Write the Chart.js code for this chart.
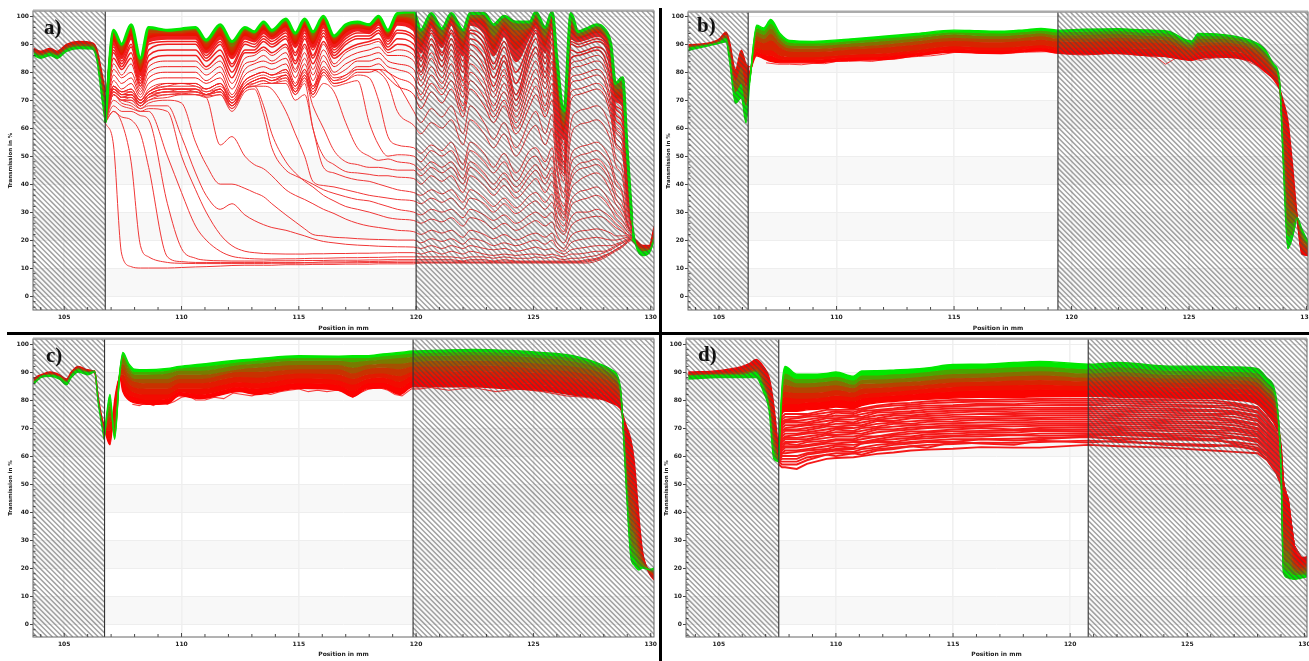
<!DOCTYPE html>
<html><head><meta charset="utf-8">
<style>
html,body{margin:0;padding:0;background:#fff;width:1309px;height:661px;overflow:hidden}
canvas{position:absolute;filter:blur(.45px)}
.tag{position:absolute;font:bold 21px "Liberation Serif",serif;color:#111;filter:blur(.4px)}
.bar{position:absolute;background:#000}
</style>
<script src="https://cdn.jsdelivr.net/npm/chart.js@4"></script>
</head><body>
<div class="bar" style="left:7px;top:332px;width:1302px;height:3px"></div>
<div class="bar" style="left:659px;top:8px;width:3px;height:653px"></div>
<canvas id="pa" style="left:0;top:0"></canvas>
<canvas id="pb" style="left:662px;top:0"></canvas>
<canvas id="pc" style="left:0;top:335px"></canvas>
<canvas id="pd" style="left:662px;top:335px"></canvas>
<div class="tag" style="left:44px;top:15px">a)</div>
<div class="tag" style="left:697px;top:13px">b)</div>
<div class="tag" style="left:46px;top:343px">c)</div>
<div class="tag" style="left:698px;top:342px">d)</div>
<script>
const xTicks=[105,110,115,120,125,130];
const yTicks=[0,10,20,30,40,50,60,70,80,90,100];
const shadedBands=[[0,10],[20,30],[40,50],[60,70],[80,90]];
const hatchA=[[103.67,106.75],[120,130.14]];
const hatchB=[[103.68,106.24],[119.42,130.06]];
const hatchC=[[103.67,106.72],[119.87,130.14]];
const hatchD=[[103.6,107.56],[120.77,130.11]];

/* ---------- panel a ---------- */
const leadXA=[103.7,104,104.4,104.7,105.1,105.6,106.2,106.4,106.6,106.75];
const leadA=[
[88.5,87.5,88.5,87.5,90,91,90.5,88,80,73],
[87.6,86.6,87.6,86.6,89,90,90,87,78,70],
[87,86,87,86,88.3,89.3,89.2,85.5,75,67],
[86,85,86,85,87.5,88.5,88.3,84,71,62]];
const tailXA=[129.2,129.37,129.66,129.94,130.15];
const tailA=[
[21,20,18,18,25],
[20.5,19,17,17,23],
[20,18.5,16,16.5,21],
[27,18,14.5,15.5,20]];
const posA=[106.75,107.1,107.45,107.85,108.25,108.6,109.4,110,110.6,111.05,111.65,112.15,112.7,113.1,113.5,113.85,114.45,114.85,115.25,115.6,116.05,116.5,117,117.5,118,118.4,118.8,119.2,119.9,120.2,120.65,121.1,121.5,122,122.3,122.9,123.3,123.75,124.25,124.85,125.1,125.5,125.8,126,126.3,126.6,126.9,127.3,127.7,128,128.3,128.5,128.8,129,129.2];
const fallingA=[
[62,54,15,10.5,10,10,10,10.2,10.4,10.5,10.7,10.9,11,11,11,11,11.2,11.2,11.2,11.3,11.3,11.3,11.4,11.4,11.4,11.5,11.5,11.5,11.5,
 11.8,11.8,11.8,11.8,11.8,11.8,11.8,11.8,11.8,11.8,11.8,11.8,11.8,11.8,11.8,11.8,11.8,11.8,11.8,12.5,13.5,15,16,17.5,19,20],
[62,66,62,48,18,14,12,11.7,11.6,11.6,11.6,11.6,11.6,11.6,11.6,11.7,11.7,11.7,11.8,11.8,11.8,11.8,11.9,11.9,12,12,12,12,12,
 12,12,12,12,12,12,12,12,12,12,12,12,12,12,12,12,12,12,12.3,13,14,15.5,16.5,18,19.5,20.5],
[62,66,64,63,58,46,14,12.3,12,12,12,12,12,12,12,12,12,12,12,12,12.2,12.2,12.2,12.3,12.3,12.4,12.4,12.5,12.5,
 12.5,12.5,12.5,12.5,12.3,12.5,12.5,12.3,12.5,12.3,12.3,12.3,12.3,12.3,12.3,12.3,12.3,12.3,12.6,13.2,14.2,15.5,16.5,18,19.5,20.5],
[62,68,66,66,64.5,63,33,17,13.5,12.8,12.6,12.5,12.5,12.5,12.5,12.6,12.6,12.6,12.7,12.7,12.7,12.8,12.8,12.8,12.9,12.9,13,13,13,
 13,13,13,13,12.5,13,13,12.5,13,12.5,12.5,12.5,12.5,12.5,12.5,12.5,12.5,12.5,13,13.5,14.5,15.5,16.5,18,19.5,20.5],
[62,70,68,67,66,66,50,37,25,20,16,14.2,13.5,13.3,13.2,13.2,13.3,13.3,13.4,13.5,13.5,13.6,13.7,13.7,13.8,13.8,13.9,14,14,
 14,14,14,14,13.5,14,14,13.5,14,13.5,13.5,14,13.5,14,13.5,13,13.5,13.5,14,14.5,15.5,16.5,17.5,19,20,20.5],
[62,72,69,68,66,67,66,50,38,30,22,18,16,15.5,15.2,15.1,15,15,15,15.1,15.1,15.2,15.2,15.3,15.3,15.4,15.4,15.5,15.5,
 15,16,15,16,15,16,15,14.5,15,14.5,15,15,14.5,15,14.5,14,15,15,15.5,16,16,17,18,19,20,21],
[62,72,70,69,67,68,68,57,44,36,31,33,29,27,25.5,24.5,23.5,22.5,21.5,20.5,19.5,19,18.5,18.2,18,17.8,17.7,17.6,17.5,
 17,18,17,18,17,18,17,16.5,17,16,17,17.5,16.5,17,16,15,16.5,17,17.5,18,18,18,18.5,19.5,20.5,21],
[62,72,70,70,67,69,70,69,55,47,40,40,38.5,37,35.5,33,29,26.5,24,22,21.5,21,20.8,20.5,20.3,20.2,20.1,20,20,
 19,20.5,19.5,20.5,18.5,20.5,19.5,18,19,18,19.5,20,18.5,20,17.5,16,19,20,20.5,21,20.5,20,20,20.5,21,21],
[62,72,70,70,68,70,71,72,72,71,54,57,50,47,45.5,43,38,36,34.5,33,31,29.5,27.5,26,25,24.5,24,23.5,23,
 22,23.5,22.5,23.5,21,23.5,22,20.5,22,20,22,22.5,21,22.5,19,17,21.5,23,23.5,24,23.5,22.5,21.5,21.5,21.5,21],
[62,72,70,71,68,70,72,72,72,71,72,67,74,75,68,58,48,44,41,39,36,34,32,31,30,29,28,27.5,27,
 26,27.5,26.5,28,25,28,26.5,24,26,23.5,26,27,25,26.5,22,19,25,27,28,28.5,28,26,24.5,23,22,21.5],
[62,73,71,71,68,71,72,72.5,72,71.5,72,66,73,74,65,53,45,43,41.5,40,38,36.7,35.5,34.5,34,33,32,31,30,
 29,31,30,31,28,31,29,27,29,26,29,30,28,30,25,22,28,30,30,31,30,28,26,24,22,21],
[62,73,71,71,68,71,73,73,73,72,73,67,74,75,75,74,66,58,50,41,39.5,39,38,37,36,35.5,35,34.5,34,
 33,35,33.5,35,31,35,33,30,33,29.5,33,34,31,33.5,27,23,32,34,35,36,34.5,31,28,25.5,23,21.5],
[62,73,71,72,68,71,73,73,73,72,73,68,74,75,76,76,76,70,72,60,46,44,42.5,41.5,41,40,39,38,37,
 36,38,36.5,38,33.5,38,35,32,35,31.5,36,37,33.5,36.5,29,25,34,37,38,39,37,33,30,27,24,22],
[62,73,71,72,69,71,73,73,73,72,73,68,74,76,77,76,77,72,76,60,50,47,44.5,44,43.5,43,43,42.5,42,
 40,43,41,43,37,43,39.5,36,39.5,35,40,42,37,41,32,27,38,41,43,44,42,37,33,29,25,22],
[62,74,71,72,69,72,73,74,73,72,74,68,75,76,77,76,78,72,77,68,60,52,48,47,46,46,45.5,45,45,
 43,46,44,46,40,46,42,38,42,37,43,45,40,44,34,28,41,45,46,47,45,40,35,31,26,22],
[62,74,72,72,69,72,74,74,74,72,74,69,75,77,78,77,78,73,78,71,76,73,62,53,50,48.5,49,48,47,
 45,48,46,48,42,48,44,40,44,39,45,47,42,46,36,29,43,47,48,49,47,42,37,33,26,22],
[62,74,72,73,69,72,74,74,74,73,74,69,75,77,78,77,79,73,78,72,79,75,76,77,62,54,50,50.5,50,
 48,52,50,52,45,52,48,44,48,41,49,50,45,50,38,30,47,50,51,52,50,46,40,36,26,22],
[62,75,72,73,70,73,75,75,75,73,75,70,76,78,79,78,79,74,79,73,80,76,77,79,78,70,57,54,53,
 51,54,52,55,47,55,51,46,51,44,52,53,48,53,40,32,50,53,54,55,53,48,42,37,27,22],
[62,75,73,73,70,73,75,76,75,74,76,70,77,79,80,79,80,75,80,74,81,77,78,81,81,80,76,66,61,
 58,62,60,63,54,63,58,53,58,50,59,61,54,60,45,35,57,61,62,63,61,55,47,42,29,23],
[62,75,73,74,70,74,76,76,76,74,76,71,77,79,80,79,81,75,81,75,81,77,79,81,81,81,80,76,66,
 62,67,64,68,58,68,62,56,62,53,63,66,58,65,47,37,62,66,67,68,66,59,50,45,31,23]];
const massA=[
[62,74,72,72,69,72,74,74,74,72,74,68,75,77,78,77,79,73,79,72,80,76,77,80,80,81,78,75,72,
 67,73,69,74,64,74,68,62,68,58,68,72,64,70,51,41,70,72,73,74,72,64,54,50,33,23],
[62,75,73,74,70,73,76,76,76,74,76,69,77,79,80,79,81,75,81,74,82,78,79,82,82,83,80,78,75,
 70,76,72,77,66,77,71,64,70,60,71,75,66,73,53,43,73,74,75,76,74,66,55,51,34,24],
[62,77,74,76,71,76,78,78,78,76,78,71,79,81,82,81,83,76,83,75,84,79,81,84,84,85,82,81,78,
 72,79,74,80,68,80,74,66,73,62,74,78,68,76,55,44,76,77,78,79,77,68,57,53,35,24],
[63,79,76,78,72,78,80,80,80,77,80,72,81,83,84,83,85,78,85,77,86,80,83,85,86,87,84,83,81,
 75,82,76,83,71,83,77,68,76,64,77,81,71,79,57,45,78,79,80,81,79,70,59,55,36,24],
[63,81,78,80,73,80,82,82,82,79,82,74,83,84,86,84,87,80,87,79,88,82,85,87,88,89,86,86,84,
 77,85,78,86,73,86,80,71,79,66,80,84,74,82,60,46,81,82,83,84,82,73,60,56,37,24],
[63,83,79,83,74,82,84,84,84,81,84,76,85,86,88,86,89,81,89,81,90,83,87,89,90,91,87,88,86,
 79,87,80,88,75,88,82,73,81,68,83,87,76,84,61,47,83,84,85,86,84,75,61,58,38,25],
[64,85,81,85,75,84,86,86,86,82,86,78,87,87,89,87,90,83,90,83,91,85,88,90,91,92,88,90,88,
 80,90,82,90,77,90,85,75,84,70,85,89,78,87,63,48,85,86,87,88,86,77,63,60,39,25],
[64,87,82,87,76,86,88,88,88,84,88,80,88,88,91,89,92,84,92,85,93,86,90,92,92,94,89,92,90,
 82,92,84,92,80,92,88,78,86,72,88,92,80,90,65,50,88,87,88,89,88,80,65,62,40,25],
[64,88,83,89,77,88,90,90,90,85,90,82,90,89,92,90,93,86,93,86,94,87,91,93,93,95,90,94,92,
 84,94,86,94,82,94,90,81,89,76,90,94,83,92,68,52,90,89,90,91,90,82,67,64,42,25],
[65,89,84,90,78,90,91,91,91,86,91,83,91,90,93,91,94,87,94,88,95,88,92,94,94,96,91,95,93,
 85,95,87,95,84,95,92,83,91,80,91,95,85,94,70,54,91,90,91,92,91,83,68,66,43,26],
[65,90,85,92,79,91,92,92,92,87,92,85,92,91,94,92,95,89,95,89,96,89,93,95,94,97,92,97,95,
 87,96,89,97,86,97,94,86,93,84,93,96,87,96,72,56,92,91,92,93,92,85,70,68,45,26],
[65,91,86,93,80,92,93,93,93,88,93,86,93,92,95,93,96,90,96,90,97,90,94,96,95,98,93,98,96,
 89,97,90,98,88,98,96,88,95,88,94,97,89,98,74,58,94,92,93,94,93,86,71,70,46,26],
[65,92,87,94,81,93,94,94,94,89,94,87,94,92,96,93,97,91,97,91,98,91,95,96,96,98,93,99,97,
 90,98,91,99,90,99,98,90,96,91,95,98,91,99,76,60,95,93,94,95,94,87,72,72,47,26],
[65,93,88,95,82,94,94,94,95,90,95,88,95,93,97,94,98,92,98,92,99,92,96,97,96,99,94,100,98,
 91,99,92,99,91,99,99,92,97,93,96,99,92,100,78,61,97,93,94,95,94,88,73,73,48,26],
[64,94,89,96,83,95,95,95,95,90.5,96,89,95,94,97,94,98,93,98,93,99,92,96,97,97,99,94,100,99,
 92,99,93,100,92,100,99,93,98,95,96,100,93,100,80,62,98,93,94,96,94,88,74,74,49,27],
[63,94.5,89.5,96.5,84,95.5,95,95,95.5,91,96.5,90,95.5,94,97.5,94.5,98.5,93.5,98.5,94,99.5,92.5,96.5,97.5,97,99.5,94.5,100.5,100,
 93,100,94,100,93,100,100,95,99,96,97,100,94,101,82,64,100,94,95,96,95,89,75,76,50,27]];
const topA=[62,95,90,97,85,96,95,95.5,96,91.5,97,91,96,94.5,98,95,99,94,99,94.5,100,93,97,98,97,100,95,101,101.5,
 95,101,95.5,101,95,101,101,97,100,98,98,101.5,96,101.5,85,66,101,94.5,95.7,97,95.7,90,76,78,52,27];

/* ---------- panel b ---------- */
const leadXB=[103.7,104.5,105,105.3,105.45,105.7,105.95,106.15,106.3];
const leadB=[
[90,90.5,92,94.5,91,81,88,83,82],
[89.5,90.3,91.5,93.5,89,77,82,75,80],
[89,90,91,92.5,87,73,76,68,78],
[88,89.5,90.5,91,84,69,71,62,76]];
const posB=[106.3,106.6,106.9,107.2,107.6,108,109,110.5,112,113.4,115,116,117,118,118.7,119.4,120.5,122,123,124.1,125.1,125.4,126.2,127.6,128.2,128.6,128.85,129,129.2,129.4,129.6,129.8,130.15];
const fringeXB=[107,107.5,108,108.5,109,109.5,110,110.5,111,111.5,112,112.5,113,113.5,114,114.5,115,115.5,116,116.5,117,117.5,118,118.5,119,119.5,120,120.5,121,121.5,122,123,123.6,124,124.5,125,125.5,126,126.5,127,127.5,128];
const fringeB=[83.5,83,83,82.8,83.3,83.2,84,84,84.2,84,84.6,84.8,85.5,85.8,86,86.5,87.2,87.5,86.9,86.8,86.7,87,87.3,87.4,87.5,86.8,86.5,86.3,86.5,86.9,86.7,86.2,85.5,83,85.5,85,84.4,85.2,85.4,85.5,84,82];
const bandB=[
[80,86,85,84,83.5,83.5,83.5,84.4,84.7,86,87.4,87,86.9,87.5,87.8,87,86.6,86.9,86.2,85.6,84.4,85,85.6,84.2,80.5,77.5,74,70,63,47,28,15,14.5],
[79.5,87.5,86.5,86,84.7,84.5,84.5,85.3,85.7,87,88.3,88,87.8,88.4,88.8,88,87.7,88,87.3,86.7,85.2,86,86.6,85,81.5,78.2,74.4,67.4,57.5,44,28,16,15],
[79,89,88,88,86,85.5,85.5,86.3,86.8,88,89.4,89,88.9,89.4,89.8,89,88.9,89.1,88.5,87.9,86.1,87.3,87.7,86,82.5,78.9,74.8,64.7,52,40.5,28,17,15.4],
[78,91.5,90.5,91.5,89,87.5,87.4,88.2,88.9,90,91.3,91,90.9,91.4,91.8,91.1,91,91.3,90.8,90.2,87.9,89.5,89.7,87.9,84.5,80.3,75.5,59.4,40,34,28,19.5,16.3],
[77.4,93,92,93.8,90.3,88.6,88.5,89.2,90,91.2,92.5,92.1,92,92.5,93,92.2,92.2,92.5,92,91.5,88.9,90.8,90.9,89,85.8,81.1,76,56,33,30,28,21,16.7],
[77,94.5,93.5,95.7,91.7,89.6,89.5,90.3,91.2,92.2,93.6,93.1,93,93.6,94,93.3,93.5,93.7,93.2,92.8,89.8,92,92,90,86.8,81.8,76.3,53.4,27,26,28,22,17.2],
[76.5,96,95,97.5,93,90.7,90.4,91.2,92.2,93.2,94.4,94.2,94,94.5,95,94.4,94.6,94.8,94.3,93.9,90.6,93,93,90.9,87.8,82.5,76.7,50.8,21.5,22,28,23,17.6],
[76,97,96,99,94,91.5,91.2,92,93,94,95.2,95,94.8,95.3,95.8,95.2,95.5,95.7,95.3,94.8,91.3,94,93.8,91.6,88.6,83,77,48.7,17,21,28,24,18]];

/* ---------- panel c ---------- */
const leadXC=[103.7,103.85,104,104.4,104.8,105.1,105.3,105.6,106,106.3,106.45,106.6,106.7];
const leadC=[
[87.5,88.5,89,90,89,87.5,90,92,90.8,90,81,74,71],
[87,88,88.5,89.5,88.5,87,89.5,91.5,90.3,89.7,80.5,73,70],
[86.5,87.5,88.5,89,88.3,86.5,89,91,90,90.5,80,72,68],
[85.7,87,88,88.5,87.5,85.5,88,90,89,90,79,71,66]];
const posC=[106.7,106.95,107.15,107.37,107.5,107.75,108,108.5,109.4,109.9,110.8,112.47,113.2,115,116.7,117.3,117.9,118.6,119.3,119.85,121,122.4,124,125.3,126.7,127.8,128.3,128.7,128.8,128.95,129.15,129.3,129.5,129.65,129.95,130.15];
const fringeXC=[107.9,108.2,108.5,108.8,109.1,109.4,109.7,110,110.3,110.6,111,111.4,111.8,112.2,112.6,113,113.4,113.8,114.2,114.6,115,115.4,115.8,116.2,116.6,117,117.3,117.6,118,118.4,118.8,119.1,119.4,119.8,120.2,120.6,121,121.4,122.4,123.4,124.4,125.4,126.4,127.2,127.8];
const fringeC=[78.5,78,79,78,79.5,78.5,79.5,81,81.5,80,80,81,80.5,82.5,82,81.5,82.5,82,83,83.5,84,83,83.5,83,83.5,83,81,82.5,84,84.5,83.5,82,81.5,84,84,84.5,84,83.5,84.5,83,84,83,81.5,81,80.2];
const bandC=[
[70,64,80,88,83,80,79,78.5,78.7,81.5,80.5,83,82,84.2,83.5,81.2,84,84.3,82,84.7,84.7,84.7,84,83.5,81.8,80.5,79,77,75,71,66,58,38,26,18,15.7],
[70,66,78,88,85,82,81,80,80.5,83,82,84.7,84,85.9,85.3,83.3,85.8,86.1,84.3,86.6,86.6,86.7,86,85.5,83.9,82.4,80.8,78.2,75,68,60,52,35,25,18.2,16.3],
[69,69,76,88.5,87,84,82.5,82,82,84,84,86.4,86,87.7,87,85.5,87.4,88,86.5,88.5,88.5,88.7,88,87.5,86,84,82.5,79.4,75,64.7,53,47,32,24.5,18.5,17],
[68.5,72,74,89,89,86,84.5,84,84,86,86,88.2,88,89.5,89,87.5,89,89.5,88.5,90,90.2,90.5,90,89.5,88,86,84.5,80.6,74.5,61.5,47,42,29.5,23.5,18.7,17.5],
[68,74,72,89,91,88,86.5,86,86,87.5,87.5,90,90,91,91,89.5,91,91.5,91,92,92,92.3,92,91,90,88,86.5,82,74.5,58,41,36,27,22.5,19,18],
[67.5,76,70,89.5,93,89.5,87.5,87.5,87.5,89,89,91,91.5,92.5,92.5,91.5,92.5,93,93,93.5,94,94,93.7,93,92,90,88,83,74,56,36,32,25,22,19.2,18.5],
[67,78,68,89.5,95,91.2,89,89,89.5,90.5,90.5,92.5,93,94,94,93.5,94,94.5,95,95.5,95.7,96,95.7,95,93.8,91.5,89.5,84,74,53,31,27,22.5,21,19.3,19],
[66.5,80,67,90,96,92.2,90,90,90.5,91.3,91.8,93.5,94,95,95,95,95,95.6,96.2,96.6,96.9,97.2,96.8,96,95,92.4,90.5,84.5,74,51,27,23.5,20.5,20.5,19.4,19.5],
[66,82,66,90,97,93,91,90.8,91.3,92,92.8,94.3,94.8,95.8,95.7,95.8,95.8,96.5,97,97.5,97.8,98.1,97.7,97,95.8,93,91,85,74,50,24,21,19.3,20,19.5,20]];

/* ---------- panel d ---------- */
const leadXD=[103.7,105,106,106.3,106.6,106.9,107.15,107.35,107.55];
const leadD=[
[90,90.5,92,93,94.5,92,88,78,62],
[89.5,90,91,92,92.5,90,84,72,60],
[89,89.5,90,90.5,91,88,80,68,59],
[88.7,89,89.5,90,90.5,86,78,65,58],
[88.7,89,89,89.5,90,85,78,62,58],
[87.5,88,88,88,88,83,76,59,58]];
const posD=[107.55,107.7,107.83,108.33,108.76,109.6,110,110.75,111.1,111.75,112.46,113.2,113.9,115,116.2,117.6,118.7,120.77,122.1,124,126.1,127,128,128.4,128.8,129,129.1,129.3,129.55,129.9,130.15];
const sparseD=[
[57,56,56,55.4,57.2,59,59.3,59.6,60,60.8,61.3,62,62.3,62.6,63.2,63,63,64,63.5,63,62,61.5,61,58.6,54,50,46,38,26,20,20],
[58,57,57,57,58.5,60.5,60,61,60.5,62,62.5,63.5,63,65,64.5,64,65.5,64.8,65.5,64,63.5,64,62,59,54,50,46,38,26,20,20],
[58,58,58,58,59.5,60.5,61,61,61.5,62.5,63,63.5,64,64.3,64.8,64.7,65,65.5,65,64.5,64,63.5,62.5,60,55,51,47,39,26,20,20],
[58,59,59,59,60.5,61.5,62,61.5,62.5,63,64,64.5,65,65,66,65.5,66,67,65.8,66.3,66,64.5,63,60.5,55,51,47,39,26,20,21],
[58,60,60,60,61,62,62.5,62.5,63,64,64.5,65,65.5,66,66,66.2,66.5,66.8,66.5,66,65.5,65,64,61,56,52,48,40,27,21,21],
[59,61,61,61.5,62,62.5,63.5,63,64.5,65,65,66,66.3,67,67,67.5,67.2,67.5,67.5,67,66,66.5,65,62,56,52,48,40,27,21,21],
[59,61,62,62,62.5,63.5,64,64,64.5,65.5,66,66.5,67,67.3,67.8,67.5,68,68.2,68,67.5,67,66.5,65.5,62,57,53,48,40,27,21,21],
[59,62,63,63,63.5,64.5,64.5,65,65,66,67,67,67.8,68,68.5,68.4,69,68.8,68.6,68,68,67,66,63,57,53,48,40,27,21,21],
[59,63,63.5,63.5,64,65,65.5,65.5,66,67,67.5,68,68.5,68.8,69,69.2,69.3,69.5,69.3,69,68.5,68,67,63.5,58,54,49,41,27,21,22],
[60,63,64.5,64,65,65.5,66,66,67,67,68,68.8,68.8,69.5,70,69.5,70,70.3,70,69.7,69,69,67.5,64,58,54,49,41,27,21,22],
[60,64,65,65,65.5,66.5,67,67,67.5,68.5,69,69.5,70,70.3,70.5,70.6,70.8,71,70.7,70.3,70,69.5,68,65,59,55,49,41,27,21,22],
[60,65,66,66,66,67.5,67.5,68,68,69.5,69.5,70.2,70.5,71,71,71.3,71.5,71.5,71.5,71,70.7,70,68.7,65.5,59,55,49,41,27,22,22],
[60,66,66.5,66.5,67,68,68.5,68.5,69,70,70.5,71,71.3,71.7,72,72,72.2,72.3,72,71.8,71.5,71,69.5,66,60,56,50,42,27,22,22],
[61,66,67,67.5,68,68.5,69.5,69,70,70.5,71.5,71.5,72.2,72.4,73,72.7,73,73,72.8,72.5,72,72,70,67,61,56,50,42,28,22,22],
[60,67,68,68,68.5,69.5,70,70,70.5,71.5,72,72.4,72.8,73.2,73.5,73.5,73.6,73.8,73.5,73.2,73,72.5,71,67,62,57,50,42,28,22,22],
[61,68,69,69,69.2,70.5,70.5,71,71,72.5,72.5,73.5,73.5,74,74,74.3,74.5,74.5,74.3,74,73.7,73,71.5,68,62,57,50,42,28,22,23],
[61,69,69.5,69.5,70,71,71.5,71.5,72,73,73.5,74,74.3,74.7,75,75,75.2,75.3,75,74.7,74.5,74,72.5,69,63,58,50,42,28,22,23],
[62,69,70,70.5,71,71.5,72.5,72,73,73.5,74.5,74.5,75,75.5,76,75.7,76,76,75.8,75.5,75,75,73,69.5,63,58,50,43,28,22,23],
[61,70,71,71,71.5,72.5,73,73,73.5,74.5,75,75.4,75.8,76.2,76.5,76.5,76.7,76.8,76.5,76.2,76,75.5,74,70,64,59,50,43,28,22,23],
[62,71,72,72,72,73.5,73.5,74,74,75.5,75.7,76,76.6,77,77,77.2,77.3,77.4,77.2,76.9,76.5,76,74.5,71,65,60,50,43,28,23,23],
[62,72,72.5,72.5,73,74,74.5,74.3,75,76,76.5,77,77.3,77.7,78,78,78.2,78.3,78,77.7,77.5,77,75.5,72,66,60,50,43,28,23,23],
[62,72,73,73.5,74,74.5,75.5,75,76,76.5,77,77.7,78,78.2,78.7,78.5,79,79,78.8,78.4,78,78,76,72.5,67,61,50,44,28,23,24],
[62,73,74,74,74.5,75.5,76,75.7,76.5,77.5,78,78.3,78.8,79.2,79.5,79.5,79.7,79.8,79.5,79.2,79,78.5,77,73.5,68,62,50,44,28,23,24],
[63,74,75,75,75,76.5,76.5,76.5,77,78,78.7,79,79.5,80,80,80.3,80.4,80.5,80.2,80,79.8,79,77.5,74,69,63,50,44,28,23,24]];
const bandD=[
[63,75,76,76,76.5,77,77.5,77,78,79,79.5,80,80.3,80.7,81,81,81.2,81.3,81,80.7,80.5,80,78.5,75,70,64,50,45,28,23.8,24],
[63,77,78.5,78.5,79,79.5,80,79.5,80.5,81,81.5,82,82.5,83,83.3,83.5,83.7,83.3,83.5,83,82.8,82.3,81,78,72,62,42,40,26,22,23],
[62,79,81,80.5,80.5,81,81.5,81,82,82.5,83,83.5,84,84.7,85,85.3,85.5,85,85.3,84.7,84.5,84,83,80,74,60,36,35,24,21,22],
[61,80,83,82.5,82.5,83,83.5,82.7,84,84.3,84.7,85,85.5,86.3,86.5,87,87.2,86.7,87,86.3,86,85.7,84.7,81.5,76,59,31,30,22,20,21],
[60,81,85.5,84.5,84.5,85,85.3,84.2,85.7,85.8,86.2,86.5,87,87.8,88,88.5,88.8,88,88.5,87.7,87.5,87.2,86.2,83,77.5,58,27,26,20,19,20],
[60,82,87.5,86,86,86.5,87,85.5,87.2,87.3,87.6,88,88.5,89.3,89.5,90,90.3,89.5,90,89,88.8,88.5,87.7,84.5,78.5,57,24,22,19,18,19],
[59,83,89.5,87.5,87.5,88,88.3,87,88.8,88.8,89.2,89.5,90,91,91.2,91.7,92,91,91.7,90.5,90.3,90,89.5,86,79.5,56,21,19,17.5,17.5,18],
[58,85,92,89.2,89.2,89.5,90,88.5,90.4,90.5,90.7,91,91.5,92.7,92.8,93.4,93.8,92.8,93.4,92.2,92,91.8,91.2,87.9,80.7,55,18.4,16.5,16,16.5,17]];

/* ---------- drawing ---------- */
const ramp=(i,n)=>{const t=Math.pow(i/(n-1),2.2);return `rgb(${Math.round(255*(1-t))},${Math.round(232*t)},0)`;};
const pts=(xs,ys)=>xs.map((x,i)=>({x,y:ys[i]}));
function band(list,xs,rows,width){
  rows.forEach((r,i)=>{const c=ramp(i,rows.length);
    list.push({data:pts(xs,r),borderColor:c,backgroundColor:c,borderWidth:width,fill:i?'-1':false,cubicInterpolationMode:'monotone'});});
}
function thin(list,xs,rows,color,width,mono){
  rows.forEach(r=>list.push({data:pts(xs,r),borderColor:color,borderWidth:width,fill:false,cubicInterpolationMode:mono?'monotone':'default'}));
}
const panelPlugin={id:'panel',
  beforeDraw(c){const a=c.chartArea,y=c.scales.y,g=c.ctx;g.save();g.fillStyle='#f8f8f8';
    shadedBands.forEach(([lo,hi])=>{const t=y.getPixelForValue(hi),b=y.getPixelForValue(lo);g.fillRect(a.left,t,a.right-a.left,b-t);});g.restore();},
  afterDatasetsDraw(c,_,o){const a=c.chartArea,x=c.scales.x,y=c.scales.y,g=c.ctx;g.save();
    o.hatch.forEach(([lo,hi])=>{const l=Math.max(a.left,x.getPixelForValue(lo)),r=Math.min(a.right,x.getPixelForValue(hi));
      g.save();g.beginPath();g.rect(l,a.top,r-l,a.bottom-a.top);g.clip();
      g.strokeStyle='rgba(70,70,70,.5)';g.lineWidth=1.5;g.beginPath();
      const h=a.bottom-a.top;
      for(let s=l-h-6;s<r+6;s+=5.1){g.moveTo(s,a.top);g.lineTo(s+h,a.bottom);}
      g.stroke();g.restore();});
    g.strokeStyle='#333';g.lineWidth=1.1;g.beginPath();
    [o.hatch[0][1],o.hatch[1][0]].forEach(b=>{const p=x.getPixelForValue(b);g.moveTo(p,a.top);g.lineTo(p,a.bottom);});
    g.stroke();
    g.strokeStyle='#333';g.lineWidth=.9;g.beginPath();
    for(let v=Math.ceil(x.min);v<=x.max;v++){const p=x.getPixelForValue(v);g.moveTo(p,a.bottom);g.lineTo(p,a.bottom-(v%5?3:4));}
    for(let v=-4;v<=100;v+=2){if(v%10===0)continue;const p=y.getPixelForValue(v);g.moveTo(a.left,p);g.lineTo(a.left+2.5,p);}
    g.stroke();
    g.strokeStyle='#666';g.lineWidth=1;g.strokeRect(a.left,a.top,a.right-a.left,a.bottom-a.top);
    g.strokeStyle='#aaa';g.lineWidth=2;g.beginPath();g.moveTo(a.left,a.top-.5);g.lineTo(a.right,a.top-.5);g.stroke();
    g.restore();}
};
function make(id,w,h,cfg,datasets){
  datasets.forEach((d,i)=>{d.order=-i;d.pointRadius=0;});
  const cv=document.getElementById(id);cv.width=w;cv.height=h;cv.style.width=w+'px';cv.style.height=h+'px';
  new Chart(cv,{type:'line',data:{datasets},plugins:[panelPlugin],options:{
    responsive:false,animation:false,events:[],
    layout:{padding:{left:0,top:cfg.top,right:w-cfg.right,bottom:0}},
    plugins:{legend:{display:false},tooltip:{enabled:false},panel:{hatch:cfg.hatch}},
    scales:{
      x:{type:'linear',min:cfg.xmin,max:cfg.xmax,
        afterBuildTicks(s){s.ticks=xTicks.map(value=>({value}));},
        afterFit(s){s.height=h-cfg.bottom;s.paddingLeft=0;s.paddingRight=0;},
        grid:{color:'#f0f0f0',lineWidth:1.6,drawTicks:false},border:{display:false},
        ticks:{autoSkip:false,maxRotation:0,padding:4,color:'#222',font:{family:'DejaVu Sans',size:6,weight:'bold'}},
        title:{display:true,text:'Position in mm',color:'#222',font:{family:'DejaVu Sans',size:6,weight:'bold'},padding:{top:0,bottom:cfg.titleGap}}},
      y:{type:'linear',min:cfg.ymin,max:cfg.ymax,
        afterBuildTicks(s){s.ticks=yTicks.map(value=>({value}));},
        afterFit(s){s.width=cfg.left;s.paddingTop=0;s.paddingBottom=0;},
        grid:{color:'#eeeeee',lineWidth:1,tickColor:'#444',tickLength:3},border:{display:false},
        ticks:{autoSkip:false,padding:1,color:'#222',font:{family:'DejaVu Sans',size:6,weight:'bold'}},
        title:{display:true,text:'Transmission in %',color:'#222',font:{family:'DejaVu Sans',size:5.5,weight:'bold'},padding:{top:cfg.yTitle,bottom:0}}}
    }}});
}
/* a */
const dsA=[];
band(dsA,leadXA,leadA,1.4);
thin(dsA,posA,fallingA,'rgb(240,55,55)',1,true);
massA.forEach((r,i)=>{
  const tone=i<12?'rgb(240,30,30)':i===12?'rgb(232,20,0)':i===13?'rgb(215,40,0)':i===14?'rgb(190,65,0)':'rgb(130,115,0)';
  dsA.push({data:pts(posA,r),borderColor:tone,backgroundColor:tone,borderWidth:i<6?1:i<10?1.5:2.2,fill:i>=11?'-1':false,cubicInterpolationMode:'monotone'});});
dsA.push({data:pts(posA,topA),borderColor:'rgb(0,232,0)',backgroundColor:'rgb(130,115,0)',borderWidth:3,fill:'-1',cubicInterpolationMode:'monotone'});
band(dsA,tailXA,tailA,1.6);
make('pa',659,332,{left:33,right:654,top:11,bottom:310,xmin:103.67,xmax:130.14,ymin:-5,ymax:101.9,hatch:hatchA,titleGap:0,yTitle:7},dsA);
/* b */
const dsB=[];
band(dsB,leadXB,leadB,1.4);
thin(dsB,fringeXB,[fringeB],'rgb(248,60,60)',1,false);
band(dsB,posB,bandB,1.4);
make('pb',647,332,{left:26,right:646,top:12,bottom:310,xmin:103.68,xmax:130.06,ymin:-5,ymax:101.7,hatch:hatchB,titleGap:0,yTitle:3},dsB);
/* c */
const dsC=[];
band(dsC,leadXC,leadC,1.4);
thin(dsC,fringeXC,[fringeC],'rgb(248,60,60)',1.1,false);
band(dsC,posC,bandC,1.4);
make('pc',659,326,{left:33,right:654,top:4,bottom:302,xmin:103.67,xmax:130.14,ymin:-4.6,ymax:101.8,hatch:hatchC,titleGap:3,yTitle:7},dsC);
/* d */
const dsD=[];
band(dsD,leadXD,leadD,1.4);
thin(dsD,posD,sparseD,'rgb(245,25,25)',1.9,false);
band(dsD,posD,bandD,1.4);
make('pd',647,326,{left:24,right:645,top:4,bottom:302,xmin:103.6,xmax:130.11,ymin:-4.6,ymax:101.8,hatch:hatchD,titleGap:3,yTitle:1},dsD);
</script>
</body></html>
